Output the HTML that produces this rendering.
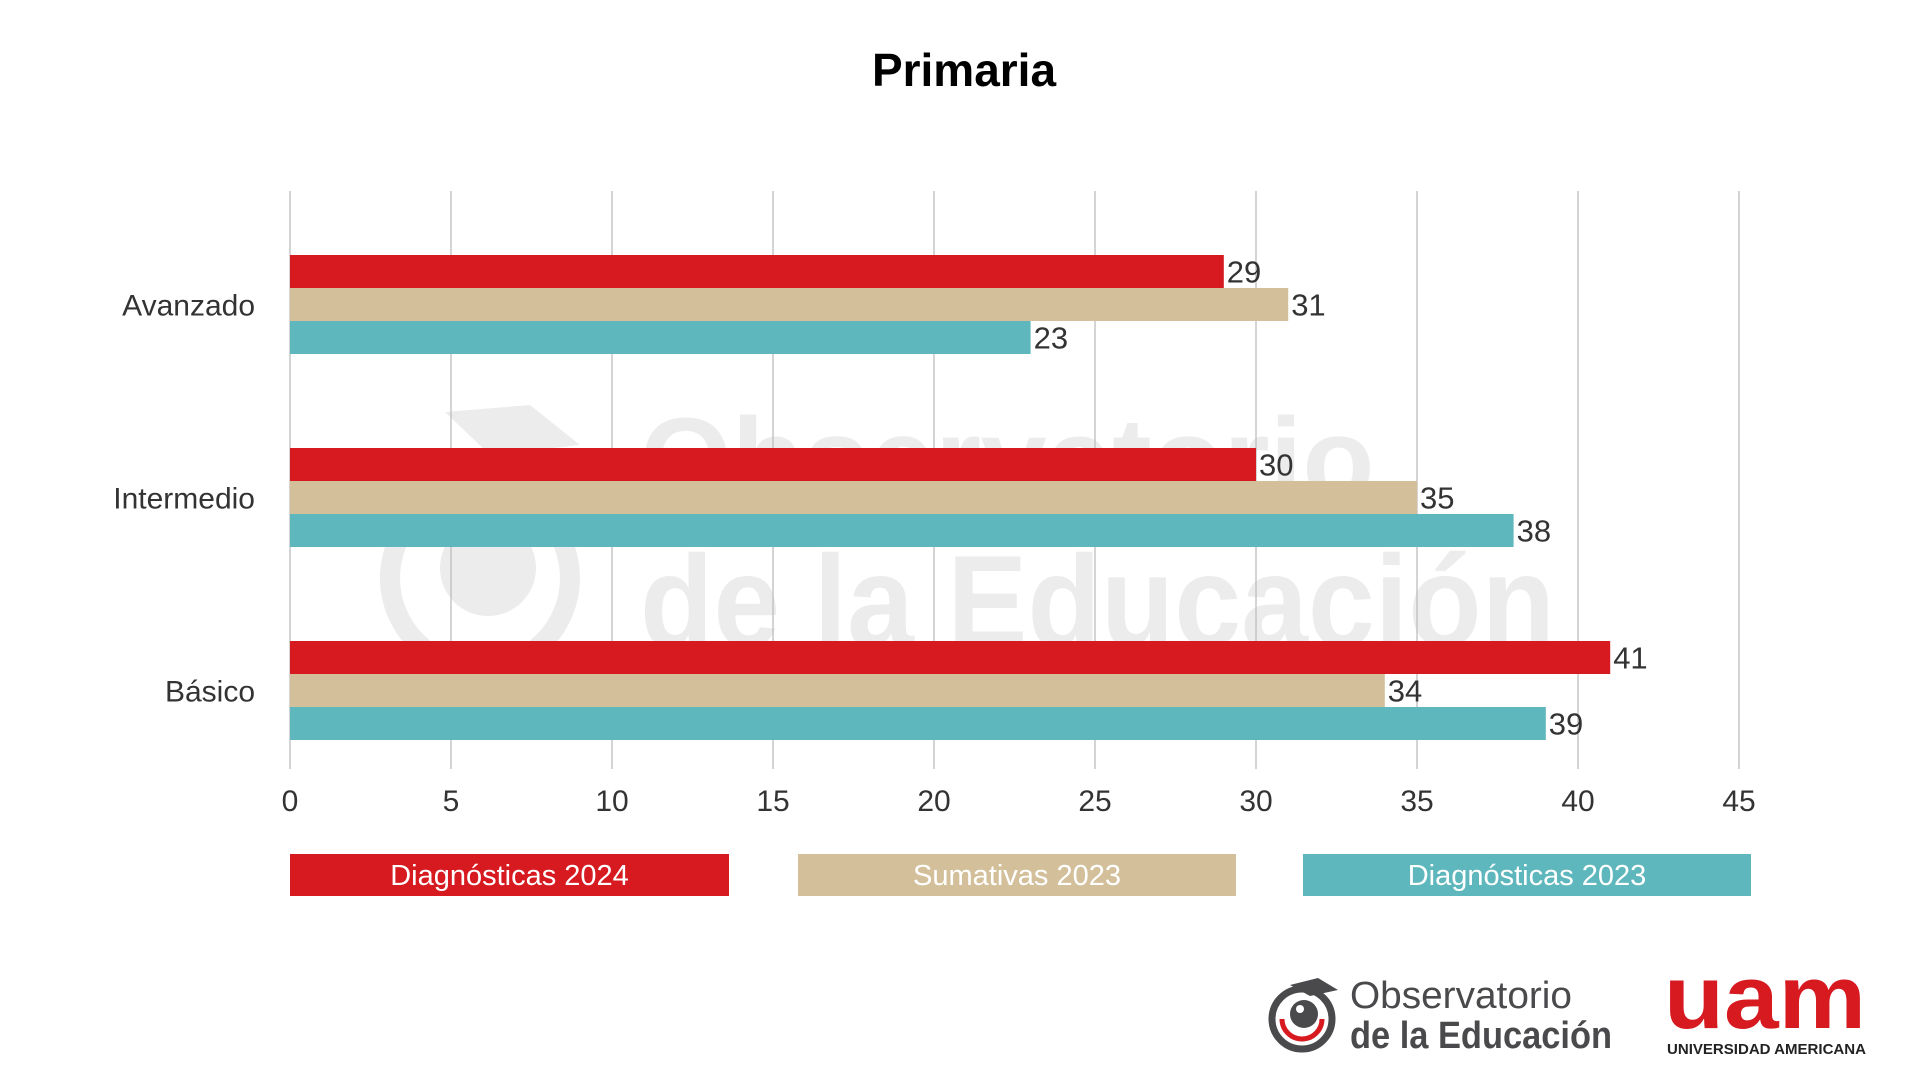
<!DOCTYPE html>
<html><head><meta charset="utf-8"><style>
html,body{margin:0;padding:0;background:#fff;width:1920px;height:1080px;overflow:hidden;font-family:"Liberation Sans",sans-serif}
</style></head><body>
<svg id="chart" width="1920" height="1080" xmlns="http://www.w3.org/2000/svg" font-family="Liberation Sans, sans-serif">
<g fill="#ececec">
  <circle cx="480" cy="578" r="90" fill="none" stroke="#ececec" stroke-width="20"/>
  <circle cx="488" cy="568" r="48"/>
  <polygon points="445,412 530,405 580,445 490,455"/>
  <text x="640" y="500" font-size="118" font-weight="bold">Observatorio</text>
  <text x="640" y="646" font-size="130" font-weight="bold" textLength="915" lengthAdjust="spacingAndGlyphs">de la Educación</text>
</g>
<g id="grid"></g>
<g id="bars"></g>
<g id="labels"></g>
<text x="964" y="86" text-anchor="middle" font-size="46" font-weight="bold" fill="#000">Primaria</text>
<g id="legend"></g>
<g>
  <circle cx="1302" cy="1019" r="30" fill="none" stroke="#4a4a4d" stroke-width="7"/>
  <path d="M1282,1019 A20,20 0 0 0 1322,1019" fill="none" stroke="#d71920" stroke-width="5"/>
  <circle cx="1304" cy="1014" r="14" fill="#4a4a4d"/>
  <circle cx="1300" cy="1009" r="4" fill="#fff"/>
  <polygon points="1290,985 1318,978 1338,990 1310,996" fill="#4a4a4d"/>
  <text x="1350" y="1008" font-size="38" fill="#4a4a4d" textLength="222" lengthAdjust="spacingAndGlyphs">Observatorio</text>
  <text x="1350" y="1048" font-size="38" font-weight="bold" fill="#4a4a4d" textLength="262" lengthAdjust="spacingAndGlyphs">de la Educación</text>
</g>
<g>
  <text x="1664" y="1028" font-size="90" font-weight="bold" fill="#d71920" textLength="202" lengthAdjust="spacingAndGlyphs">uam</text>
  <text x="1667" y="1054" font-size="15" font-weight="bold" fill="#222" textLength="199" lengthAdjust="spacingAndGlyphs">UNIVERSIDAD AMERICANA</text>
</g>
</svg>
<script>
const categories = ["Avanzado","Intermedio","Básico"];
const diag2024 = [29,30,41];
const sum2023 = [31,35,34];
const diag2023 = [23,38,39];
const seriesNames = ["Diagnósticas 2024","Sumativas 2023","Diagnósticas 2023"];
const ticks = [0,5,10,15,20,25,30,35,40,45];

const NS="http://www.w3.org/2000/svg";
const colors=["#d71920","#d3c09a","#5eb7bc"];
const series=[diag2024,sum2023,diag2023];
function xScale(v){return 290+v*32.2;}
function groupTop(i){return 255+i*193;}
const barH=33;
function mk(tag,attrs,parent){const e=document.createElementNS(NS,tag);for(const k in attrs)e.setAttribute(k,attrs[k]);parent.appendChild(e);return e;}
const grid=document.getElementById('grid'),bars=document.getElementById('bars'),labels=document.getElementById('labels'),legend=document.getElementById('legend');
ticks.forEach(t=>{
  const l=mk('line',{x1:xScale(t),x2:xScale(t),y1:191,y2:769,stroke:'#bdbdbd','stroke-width':1.3},grid);
  
  
  const tx=mk('text',{x:xScale(t),y:811,'text-anchor':'middle','font-size':30,fill:'#333'},grid);
  tx.textContent=t;
  
  
});
categories.forEach((c,i)=>{
  const tx=mk('text',{x:255,y:groupTop(i)+barH*1.5+11,'text-anchor':'end','font-size':30,fill:'#333'},labels);
  tx.textContent=c;
  
  
  series.forEach((s,j)=>{
    const y=groupTop(i)+j*barH;
    const r=mk('rect',{x:xScale(0),y:y,width:xScale(s[i])-xScale(0),height:barH,fill:colors[j]},bars);
    
    
    const v=mk('text',{x:xScale(s[i])+3,y:y+barH/2+11,'font-size':31,fill:'#333'},labels);
    v.textContent=s[i];
    
    
  });
});
const legX=[290,798,1303],legW=[439,438,448];
seriesNames.forEach((n,j)=>{
  const r=mk('rect',{x:legX[j],y:854,width:legW[j],height:42,fill:colors[j]},legend);
  
  
  const t=mk('text',{x:legX[j]+legW[j]/2,y:885,'text-anchor':'middle','font-size':29,fill:'#fff'},legend);
  t.textContent=n;
  
  
});
</script>
</body></html>
